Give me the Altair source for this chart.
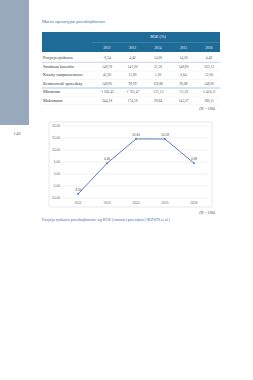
import altair as alt
import pandas as pd

# ---- data ----
years = ["2012", "2013", "2014", "2015", "2016"]
roe_values = [-8.34, 4.46, 14.60, 14.58, 4.48]

row_labels = ["Pozycja rynkowa", "Struktura kosztów", "Koszty zaopatrzeniowe",
              "Rentowność sprzedaży", "Minimum", "Maksimum"]
table_values = [
    [-8.34, 4.46, 14.60, 14.58, 4.48],
    [149.78, 141.00, 51.26, 148.80, 102.12],
    [41.00, 11.80, 1.28, 0.64, 12.00],
    [148.90, 99.99, 118.88, 90.88, 148.96],
    [-1036.42, -1761.47, -111.13, -11.20, -1416.11],
    [344.18, 174.18, 39.84, 141.07, 280.11],
]
y_ticks = [20, 15, 10, 5, 0, -5, -10]

title_text = "Marża operacyjna przedsiębiorstw"
header_text = "ROE (%)"
n_text = "(N = 160)"
source_text = "Pozycja rynkowa przedsiębiorstw wg ROE (wartości przeciętne) [KZWN et al.]"
page_number = "148"


def fmt(v):
    s = f"{abs(v):,.2f}".replace(",", " ").replace(".", ",")
    return ("-" if v < 0 else "") + s


table_df = pd.DataFrame([
    {"row": r, "col": c, "label": fmt(table_values[i][j])}
    for i, r in enumerate(row_labels) for j, c in enumerate(years)
])
rows_df = pd.DataFrame({"row": row_labels})
years_df = pd.DataFrame({"year": years})
line_df = pd.DataFrame({"year": years, "roe": roe_values,
                        "label": [fmt(v) for v in roe_values]})
ticks_df = pd.DataFrame({"v": y_ticks, "label": [fmt(v) for v in y_ticks]})
one = pd.DataFrame({"a": [0]})

SERIF = "Liberation Serif"
SANS = "Liberation Sans"
BLUE = "#1f6b98"

col_x = alt.X("col:N", scale=alt.Scale(type="point", domain=years, range=[107, 209], padding=0), axis=None)
row_y = alt.Y("row:N", scale=alt.Scale(type="point", domain=row_labels, range=[58, 101], padding=0), axis=None)
yr_x = alt.X("year:N", scale=alt.Scale(type="point", domain=years, range=[78, 194], padding=0), axis=None)
val_y_scale = alt.Scale(domain=[-10, 20], range=[198, 126], zero=False, nice=False)


def rect(x, x2, y, y2, color, stroke=None):
    kw = {"fill": color} if color else {"filled": False}
    m = alt.Chart(one).mark_rect(**kw, stroke=stroke, strokeWidth=0.6 if stroke else 0)
    return m.encode(x=alt.value(x), x2=alt.value(x2), y=alt.value(y), y2=alt.value(y2))


def rule(x, x2, y, color, w=0.5):
    return alt.Chart(one).mark_rule(color=color, strokeWidth=w).encode(
        x=alt.value(x), x2=alt.value(x2), y=alt.value(y))


def label(text, x, y, size, color, font=SERIF, align="left"):
    return alt.Chart(one).mark_text(text=text, fontSize=size, color=color, font=font,
                                    align=align, baseline="middle").encode(
        x=alt.value(x), y=alt.value(y))


layers = [
    rect(0, 29, 0, 125, "#98a9bc"),
    label(page_number, 17, 133, 5, "#5b7ea8", align="center"),
    label(title_text, 42, 22, 4.6, "#3c6e9f"),
    rect(42, 220, 32, 52, BLUE),
    rule(92, 220, 42.5, "#4f8cb5", 0.6),
    label(header_text, 158, 37, 4.2, "white", align="center"),
    alt.Chart(years_df).mark_text(fontSize=3.4, color="white", font=SERIF, baseline="middle").encode(
        x=alt.X("year:N", scale=alt.Scale(type="point", domain=years, range=[107, 209], padding=0), axis=None),
        y=alt.value(48), text="year:N"),
    rule(42, 220, 62.3, "#9fbcd2", 0.6),
    rule(42, 220, 71, "#e4eaf0", 0.4),
    rule(42, 220, 79.5, "#e4eaf0", 0.4),
    rule(42, 220, 88, "#7fa3c0", 0.6),
    rule(42, 220, 97, "#e4eaf0", 0.4),
    rule(42, 220, 104.5, "#e4eaf0", 0.4),
    alt.Chart(rows_df).mark_text(fontSize=4.3, color="#333333", font=SERIF, align="left", baseline="middle").encode(
        x=alt.value(43), y=row_y, text="row:N"),
    alt.Chart(table_df).mark_text(fontSize=3.6, color="#555555", font=SERIF, baseline="middle").encode(
        x=col_x, y=row_y, text="label:N"),
    label(n_text, 215, 109, 4, "#444444", align="right"),
    # line chart
    rect(49, 212, 122, 207, None, stroke="#d9d9d9"),
    alt.Chart(ticks_df).mark_rule(color="#e3e3e3", strokeWidth=0.5).encode(
        x=alt.value(63), x2=alt.value(208), y=alt.Y("v:Q", scale=val_y_scale, axis=None)),
    alt.Chart(ticks_df).mark_text(fontSize=3.2, color="#666666", font=SANS, align="right", baseline="middle").encode(
        x=alt.value(60), y=alt.Y("v:Q", scale=val_y_scale, axis=None), text="label:N"),
    alt.Chart(years_df).mark_text(fontSize=3.2, color="#666666", font=SANS, baseline="middle").encode(
        x=yr_x, y=alt.value(202.5), text="year:N"),
    alt.Chart(line_df).mark_line(color="#5a7fb8", strokeWidth=1,
                                 point=alt.OverlayMarkDef(color="#5a7fb8", size=4, filled=True)).encode(
        x=yr_x, y=alt.Y("roe:Q", scale=val_y_scale, axis=None)),
    alt.Chart(line_df).mark_text(fontSize=3.2, color="#555555", font=SANS, baseline="middle", dy=-4).encode(
        x=yr_x, y=alt.Y("roe:Q", scale=val_y_scale, axis=None), text="label:N"),
    label(n_text, 215, 213, 4, "#444444", align="right"),
    label(source_text, 42, 220, 4, "#3c6e9f"),
]

chart = alt.layer(*layers).resolve_scale(x="independent", y="independent").properties(
    width=253, height=380, padding=0, autosize=alt.AutoSizeParams(type="none"),
    background="white",
).configure_view(stroke=None)

chart.save("out.html", embed_options={"renderer": "svg", "actions": False})
